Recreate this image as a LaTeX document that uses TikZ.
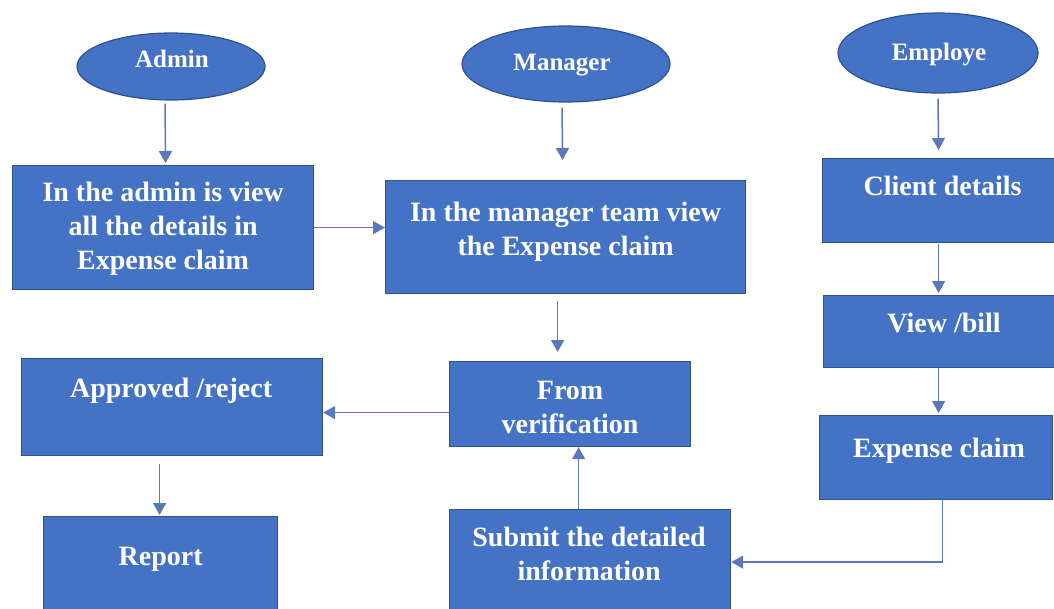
\documentclass[tikz,border=0pt]{standalone}
\usepackage{fontspec}
\setmainfont{Liberation Serif}
\usetikzlibrary{arrows.meta,calc,shapes.geometric}
\definecolor{boxblue}{HTML}{4472C4}
\definecolor{boxedge}{HTML}{2F528F}
\definecolor{linkc}{HTML}{5B78BD}
\begin{document}
\begin{tikzpicture}[x=1pt,y=-1pt,
  box/.style={draw=boxedge, line width=1.2pt, fill=boxblue, rectangle, anchor=north west, inner sep=0pt},
  oval/.style={draw=boxedge, line width=1.2pt, fill=boxblue, ellipse, inner sep=0pt},
  btext/.style={text=white, font=\bfseries\fontsize{28}{34}\selectfont, align=center, anchor=base, inner sep=0pt},
  otext/.style={text=white, font=\bfseries\fontsize{25}{30}\selectfont, anchor=base, inner sep=0pt},
  arr/.style={draw=linkc, line width=1.5pt, -{Triangle[length=12pt,width=13pt]}}]
\useasboundingbox[fill=white] (0,0) rectangle (1054,608);

% ellipses
\node[oval, minimum width=188pt, minimum height=67pt] (eA) at (171,66.5) {};
\node[otext] (tA) at (172,67) {Admin};
\node[oval, minimum width=208pt, minimum height=76pt] (eM) at (566,64) {};
\node[otext] (tM) at (562,70) {Manager};
\node[oval, minimum width=200pt, minimum height=80pt] (eE) at (938,53) {};
\node[otext] (tE) at (939,60) {Employe};

% boxes
\node[box, minimum width=301pt, minimum height=124pt] (bA) at (12,165) {};
\node[box, minimum width=360pt, minimum height=113pt] (bM) at (385,180) {};
\node[box, minimum width=236pt, minimum height=84pt] (bC) at (822,158) {};
\node[box, minimum width=235pt, minimum height=72pt] (bV) at (823,295) {};
\node[box, minimum width=233pt, minimum height=84pt] (bX) at (819,415) {};
\node[box, minimum width=301pt, minimum height=97pt] (bR) at (21,358) {};
\node[box, minimum width=241pt, minimum height=85pt] (bF) at (449,361) {};
\node[box, minimum width=234pt, minimum height=100pt] (bP) at (43,516) {};
\node[box, minimum width=281pt, minimum height=105pt] (bS) at (449,509) {};

% texts (anchor=base is the last line's baseline)
\node[btext] (tbA) at ($(bA.north)+(0,38+66)$) {In the admin is view\\all the details in\\Expense claim};
\node[btext] (tbM) at ($(bM.north)+(0,40+35)$) {In the manager team view\\the Expense claim};
\node[btext] (tbC) at ($(bC.north)+(2,37)$) {Client details};
\node[btext] (tbV) at ($(bV.north)+(3,37)$) {View /bill};
\node[btext] (tbX) at ($(bX.north)+(3,42)$) {Expense claim};
\node[btext] (tbR) at ($(bR.north)+(-1,39)$) {Approved /reject};
\node[btext] (tbF) at ($(bF.north)+(0,37+35)$) {From\\verification};
\node[btext] (tbP) at ($(bP.north)+(0,49)$) {Report};
\node[btext] (tbS) at ($(bS.north)+(-1,36+35)$) {Submit the detailed\\information};

% connectors
\draw[arr] ($(eA.south)+(-6,3)$) -- ($(bA.north)+(2.5,-2)$);
\draw[arr] ($(eM.south)+(-4,5)$) -- ($(bM.north)+(-3,-20)$);
\draw[arr] ($(eE.south)+(0,5)$) -- ($(bC.north)+(-2,-8)$);
\draw[arr] ($(bC.south)+(-2,1)$) -- ($(bV.north)+(-2.5,-2)$);
\draw[arr] ($(bV.south)+(-2.5,0)$) -- ($(bX.north)+(2.5,-2)$);
\draw[arr] (bA.east) -- (bA.east -| bM.west);
\draw[arr] ($(bM.south)+(-8,7)$) -- ($(bF.north)+(-12.5,-9)$);
\draw[arr] ($(bF.west)+(0,8.5)$) -- ($(bR.east)+(0,5.5)$);
\draw[arr] ($(bR.south)+(-12.5,8)$) -- ($(bP.north)+(-1,-1)$);
\draw[arr] ($(bS.north)+(-11.5,0)$) -- ($(bF.south)+(8.5,0)$);
\draw[arr] ($(bX.south)+(6.5,0)$) |- (bS.east);
\end{tikzpicture}
\end{document}
